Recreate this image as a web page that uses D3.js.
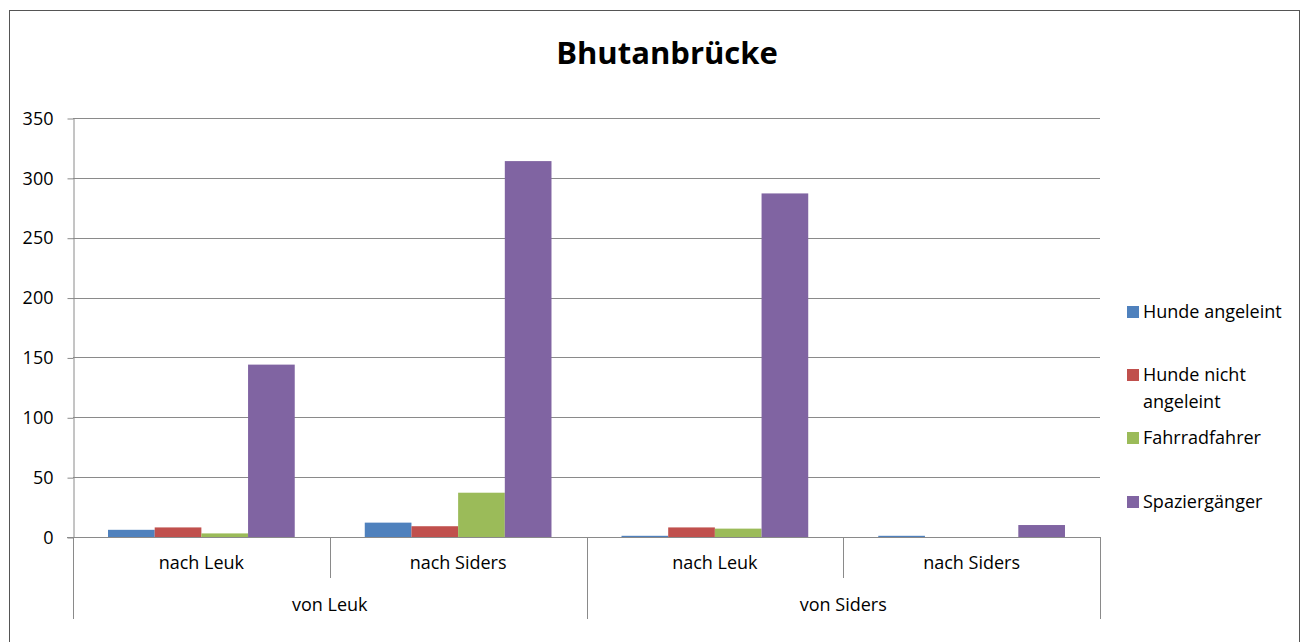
<!DOCTYPE html>
<html>
<head>
<meta charset="utf-8">
<script src="https://cdn.jsdelivr.net/npm/d3@7"></script>
<style>
  body { margin: 0; background: #fff; }
  text { font-family: "Open Sans", Lato, sans-serif; fill: #000; }
</style>
</head>
<body>
<div id="container"></div>
<script>
const width = 1302;
const height = 642;

// data
const outerGroups = ['von Leuk', 'von Siders'];
const innerLabels = ['nach Leuk', 'nach Siders'];
const seriesNames = ['Hunde angeleint', 'Hunde nicht angeleint', 'Fahrradfahrer', 'Spaziergänger'];
const seriesColors = ['#4F81BD', '#C0504D', '#9BBB59', '#8064A2'];
const hundeAngeleint = [6, 12, 1, 1];
const hundeNichtAngeleint = [8, 9, 8, 0];
const fahrradfahrer = [3, 37, 7, 0];
const spaziergaenger = [144, 314, 287, 10];
const yTicks = [0, 50, 100, 150, 200, 250, 300, 350];

const seriesValues = [hundeAngeleint, hundeNichtAngeleint, fahrradfahrer, spaziergaenger];
const leaves = [];
outerGroups.forEach(g => innerLabels.forEach(l => leaves.push({group: g, label: l, key: g + '|' + l})));

const plot = {left: 73, right: 1100, top: 118, bottom: 537};
const font = '"Open Sans", sans-serif';
const fs = '18px';

const svg = d3.select('#container').append('svg')
  .attr('width', width)
  .attr('height', height);

// chart frame
svg.append('rect')
  .attr('x', 9.5).attr('y', 10.5)
  .attr('width', 1290).attr('height', 640)
  .attr('fill', 'none')
  .attr('stroke', '#555')
  .attr('stroke-width', 1);

svg.append('text')
  .attr('x', 667).attr('y', 64)
  .attr('text-anchor', 'middle')
  .style('font-weight', 'bold')
  .style('font-size', '31px')
  .text('Bhutanbrücke');

const y = d3.scaleLinear().domain([0, 350]).range([plot.bottom, plot.top]);
const x = d3.scaleBand().domain(leaves.map(d => d.key)).range([plot.left, plot.right]);
const xs = d3.scaleBand().domain(seriesNames).range([0, x.bandwidth()]).paddingInner(0).paddingOuter(0.75);
const outerX = d3.scaleBand().domain(outerGroups).range([plot.left, plot.right]);

// gridlines
svg.append('g')
  .selectAll('line')
  .data(yTicks.filter(d => d > 0))
  .join('line')
  .attr('x1', plot.left).attr('x2', plot.right)
  .attr('y1', d => Math.round(y(d)) + 0.5).attr('y2', d => Math.round(y(d)) + 0.5)
  .attr('stroke', '#8a8a8a');

// y axis
const yAxis = svg.append('g')
  .attr('transform', `translate(${plot.left + 0.5},0.5)`)
  .call(d3.axisLeft(y).tickValues(yTicks).tickSize(6).tickPadding(14).tickSizeOuter(0));
yAxis.select('.domain').attr('stroke', '#8a8a8a');
yAxis.selectAll('.tick line').attr('stroke', '#8a8a8a');
yAxis.selectAll('.tick text').style('font-size', fs).style('font-family', font).attr('fill', '#000');

// bars
const groups = svg.append('g')
  .selectAll('g')
  .data(seriesNames)
  .join('g')
  .attr('fill', (d, i) => seriesColors[i]);

groups.selectAll('rect')
  .data((s, i) => seriesValues[i].map((v, j) => ({series: s, value: v, leaf: leaves[j]})))
  .join('rect')
  .attr('x', d => x(d.leaf.key) + xs(d.series))
  .attr('width', xs.bandwidth())
  .attr('y', d => y(d.value))
  .attr('height', d => y(0) - y(d.value));

// x axis
const xg = svg.append('g').attr('stroke', '#8a8a8a');
xg.append('line')
  .attr('x1', plot.left - 6).attr('x2', plot.right)
  .attr('y1', plot.bottom + 0.5).attr('y2', plot.bottom + 0.5);

// inner dividers (between leaf categories)
xg.selectAll('.inner')
  .data(leaves.slice(1).filter((d, i) => i % 2 === 0))
  .join('line')
  .attr('class', 'inner')
  .attr('x1', d => Math.round(x(d.key)) + 0.5).attr('x2', d => Math.round(x(d.key)) + 0.5)
  .attr('y1', plot.bottom).attr('y2', 578);

// outer dividers
const outerEdges = outerGroups.map(g => outerX(g)).concat([plot.right]);
xg.selectAll('.outer')
  .data(outerEdges)
  .join('line')
  .attr('class', 'outer')
  .attr('x1', d => Math.round(d) + 0.5).attr('x2', d => Math.round(d) + 0.5)
  .attr('y1', plot.bottom).attr('y2', 619);

svg.append('g')
  .selectAll('text')
  .data(leaves)
  .join('text')
  .attr('x', d => x(d.key) + x.bandwidth() / 2)
  .attr('y', 569)
  .attr('text-anchor', 'middle')
  .style('font-size', fs)
  .text(d => d.label);

svg.append('g')
  .selectAll('text')
  .data(outerGroups)
  .join('text')
  .attr('x', d => outerX(d) + outerX.bandwidth() / 2)
  .attr('y', 611)
  .attr('text-anchor', 'middle')
  .style('font-size', fs)
  .text(d => d);

// legend
const legendY = [312, 375, 438, 502];
const legend = svg.append('g')
  .selectAll('g')
  .data(seriesNames)
  .join('g')
  .attr('transform', (d, i) => `translate(1127,${legendY[i]})`);

legend.append('rect')
  .attr('x', 0).attr('y', -6)
  .attr('width', 12).attr('height', 12)
  .attr('fill', (d, i) => seriesColors[i]);

legend.append('text')
  .attr('x', 16)
  .attr('y', 6)
  .style('font-size', fs)
  .each(function(d) {
    const t = d3.select(this);
    if (d === 'Hunde nicht angeleint') {
      t.append('tspan').attr('x', 16).text('Hunde nicht');
      t.append('tspan').attr('x', 16).attr('dy', 27).text('angeleint');
    } else {
      t.text(d);
    }
  });
</script>
</body>
</html>
